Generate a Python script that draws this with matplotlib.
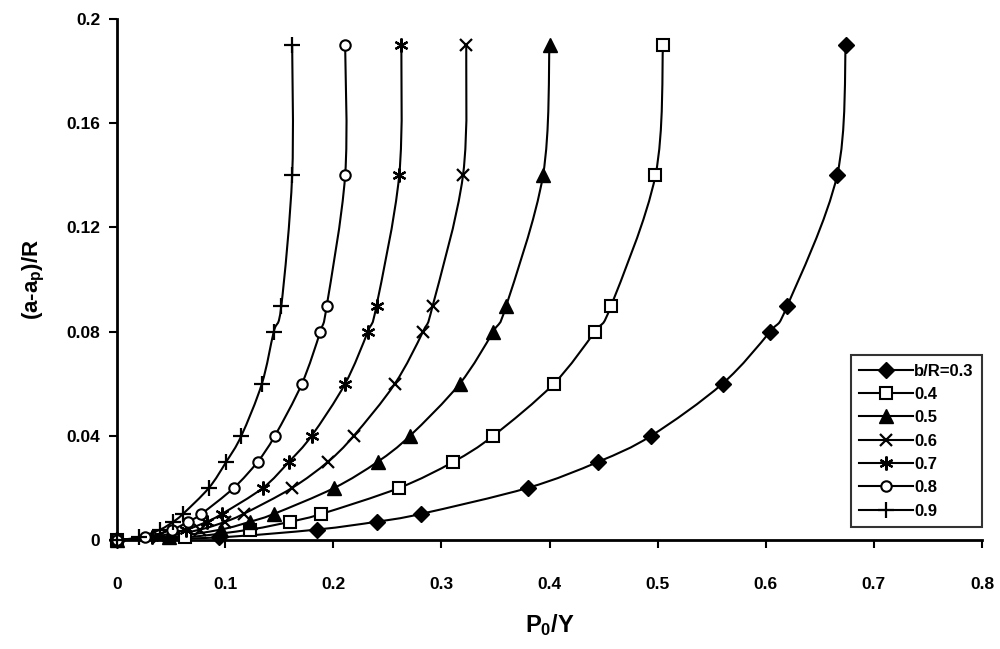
import numpy as np
import matplotlib
matplotlib.use('Agg')
import matplotlib.pyplot as plt
from matplotlib.path import Path
from matplotlib.patches import PathPatch
from matplotlib.lines import Line2D

plt.rcParams['font.family'] = ['Liberation Sans', 'DejaVu Sans']
plt.rcParams['font.weight'] = 'bold'
plt.rcParams['mathtext.fontset'] = 'custom'
plt.rcParams['mathtext.rm'] = 'Liberation Sans:bold'
plt.rcParams['mathtext.it'] = 'Liberation Sans:bold'
plt.rcParams['mathtext.bf'] = 'Liberation Sans:bold'

# crack growth (a-ap)/R levels shared by all curves
growth = [0, 0.001, 0.004, 0.007, 0.01, 0.02, 0.03, 0.04, 0.06, 0.08, 0.09, 0.14, 0.19]

# P0/Y for each b/R ratio
p_03 = [0, 0.094, 0.185, 0.240, 0.281, 0.380, 0.445, 0.494, 0.560, 0.604, 0.620, 0.666, 0.674]
p_04 = [0, 0.063, 0.123, 0.160, 0.189, 0.261, 0.311, 0.348, 0.404, 0.442, 0.457, 0.498, 0.505]
p_05 = [0, 0.048, 0.096, 0.123, 0.145, 0.201, 0.241, 0.271, 0.317, 0.348, 0.360, 0.394, 0.400]
p_06 = [0, 0.039, 0.077, 0.100, 0.117, 0.162, 0.195, 0.219, 0.257, 0.283, 0.292, 0.320, 0.323]
p_07 = [0, 0.032, 0.064, 0.083, 0.097, 0.135, 0.159, 0.180, 0.211, 0.232, 0.240, 0.261, 0.263]
p_08 = [0, 0.026, 0.051, 0.066, 0.078, 0.108, 0.130, 0.146, 0.171, 0.188, 0.194, 0.211, 0.211]
p_09 = [0, 0.020, 0.040, 0.052, 0.061, 0.085, 0.101, 0.115, 0.134, 0.145, 0.152, 0.162, 0.162]

series = [
    ('b/R=0.3', p_03, dict(marker='D', markersize=8, markerfacecolor='black')),
    ('0.4', p_04, dict(marker='s', markersize=8, markerfacecolor='white', markeredgewidth=1.5)),
    ('0.5', p_05, dict(marker='^', markersize=9.5, markerfacecolor='black')),
    ('0.6', p_06, dict(marker='x', markersize=9, markeredgewidth=1.6)),
    ('0.7', p_07, dict(marker=(6, 2, 0), markersize=10, markeredgewidth=1.6)),
    ('0.8', p_08, dict(marker='o', markersize=7.5, markerfacecolor='white', markeredgewidth=1.5)),
    ('0.9', p_09, dict(marker='+', markersize=11, markeredgewidth=1.6)),
]


def smooth_path(xs, ys):
    # Catmull-Rom style cubic Bezier through the points (spreadsheet "smoothed line")
    pts = np.column_stack([xs, ys]).astype(float)
    n = len(pts)
    verts = [pts[0]]
    codes = [Path.MOVETO]
    for i in range(n - 1):
        p0 = pts[i - 1] if i > 0 else pts[i]
        p1 = pts[i]
        p2 = pts[i + 1]
        p3 = pts[i + 2] if i + 2 < n else pts[i + 1]
        c1 = p1 + (p2 - p0) / 6.0
        c2 = p2 - (p3 - p1) / 6.0
        verts += [c1, c2, p2]
        codes += [Path.CURVE4] * 3
    return Path(verts, codes)


fig = plt.figure(figsize=(10, 6.49), dpi=100)
ax = fig.add_axes([0.117, 0.168, 0.865, 0.8027])

handles = []
for label, px, style in series:
    patch = PathPatch(smooth_path(px, growth), facecolor='none', edgecolor='black',
                      lw=1.5, zorder=2)
    ax.add_patch(patch)
    ax.plot(px, growth, ls='none', color='black', markeredgecolor='black',
            zorder=3, clip_on=False, **style)
    handles.append(Line2D([], [], color='black', lw=1.5, markeredgecolor='black',
                          label=label, **style))

ax.set_xlim(0, 0.8)
ax.set_ylim(0, 0.2)
ax.set_xticks(np.arange(0, 0.81, 0.1))
ax.set_xticklabels(['0', '0.1', '0.2', '0.3', '0.4', '0.5', '0.6', '0.7', '0.8'])
ax.set_yticks([0, 0.04, 0.08, 0.12, 0.16, 0.2])
ax.set_yticklabels(['0', '0.04', '0.08', '0.12', '0.16', '0.2'])

for side in ['top', 'right']:
    ax.spines[side].set_visible(False)
for side in ['left', 'bottom']:
    ax.spines[side].set_linewidth(2)
ax.tick_params(axis='both', direction='out', length=6, width=1.5, labelsize=12.5)
ax.tick_params(axis='x', pad=21)
ax.tick_params(axis='y', pad=6)

ax.set_xlabel('P$_0$/Y', fontsize=17, fontweight='bold', labelpad=14)
ax.set_ylabel('(a-a$_\\mathrm{p}$)/R', fontsize=16, fontweight='bold', labelpad=14)

leg = ax.legend(handles=handles, loc='lower right', bbox_to_anchor=(1.0, 0.025),
                borderaxespad=0, fontsize=12, frameon=True, fancybox=False,
                handlelength=3.2, handletextpad=0.1, labelspacing=0.5,
                borderpad=0.5)
leg.get_frame().set_edgecolor('black')
leg.get_frame().set_linewidth(1.5)
for t in leg.get_texts():
    t.set_fontweight('bold')

fig.savefig('out.png', dpi=100)
